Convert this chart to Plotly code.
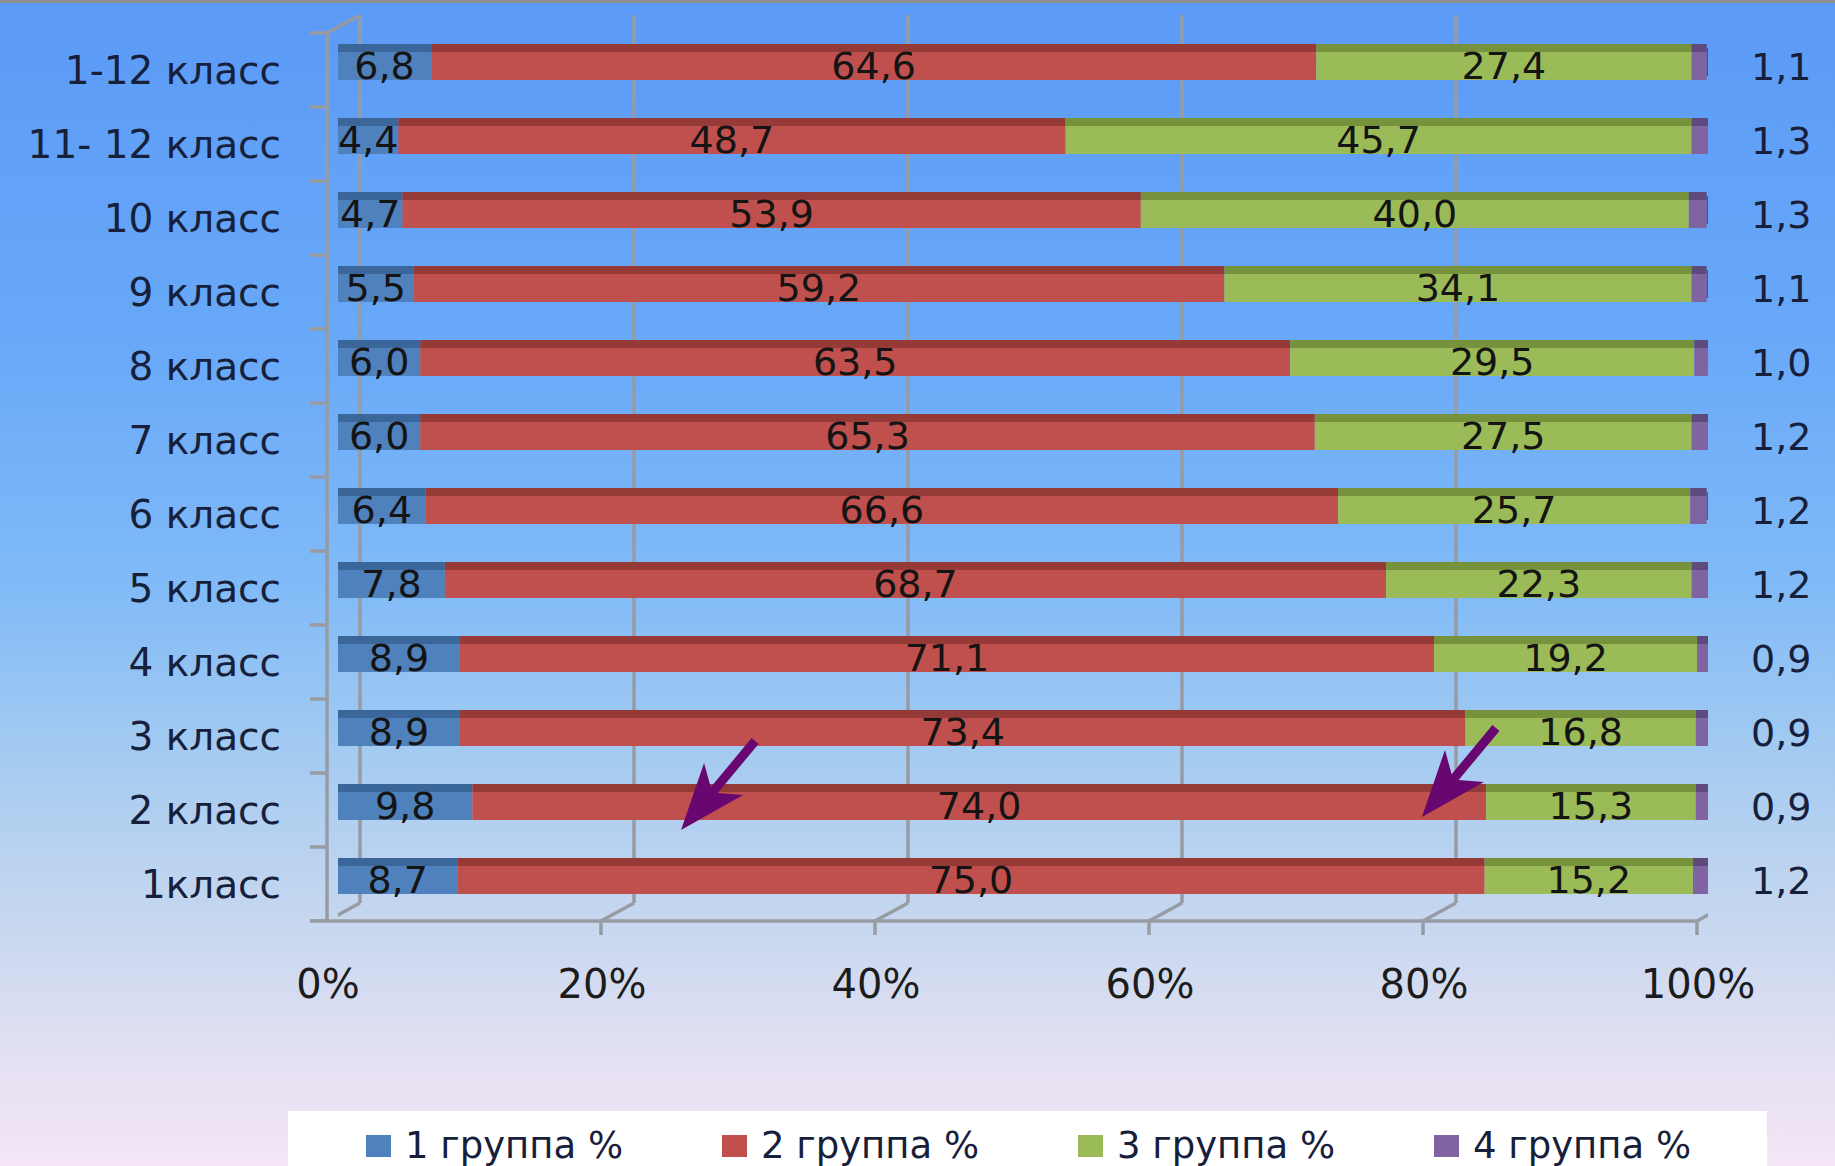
import base64
import plotly.graph_objects as go

# ---------------- data ----------------
categories = ["1-12 класс", "11- 12 класс", "10 класс", "9 класс", "8 класс", "7 класс",
              "6 класс", "5 класс", "4 класс", "3 класс", "2 класс", "1класс"]
group1 = [6.8, 4.4, 4.7, 5.5, 6.0, 6.0, 6.4, 7.8, 8.9, 8.9, 9.8, 8.7]
group2 = [64.6, 48.7, 53.9, 59.2, 63.5, 65.3, 66.6, 68.7, 71.1, 73.4, 74.0, 75.0]
group3 = [27.4, 45.7, 40.0, 34.1, 29.5, 27.5, 25.7, 22.3, 19.2, 16.8, 15.3, 15.2]
group4 = [1.1, 1.3, 1.3, 1.1, 1.0, 1.2, 1.2, 1.2, 0.9, 0.9, 0.9, 1.2]
series_names = ["1 группа %", "2 группа %", "3 группа %", "4 группа %"]
x_ticks = [0, 20, 40, 60, 80, 100]
x_tick_labels = ["0%", "20%", "40%", "60%", "80%", "100%"]
arrow_category = "2 класс"
arrow_tips = [25.04, 79.12]          # x position (%) the two arrows point at

# ---------------- styling ----------------
front_colors = ["#4f81bd", "#c0504d", "#9bbb59", "#8064a2"]
top_colors = ["#3b6699", "#963a37", "#76923c", "#5f4a7e"]
FONT = "DejaVu Sans"
TEXT_DARK = "#17203a"
FRAME = "#979ba3"

W, H = 1835, 1166
L, PW = 338, 1370
R = W - L - PW
T, PB = 15, 921
B = H - PB
PH = PB - T
ROW = 74.0
n = len(categories)


def fx(px):
    return (px - L) / PW


def fy(py):
    return (PB - py) / PH


def fmt(v):
    return f"{v:.1f}".replace(".", ",")


groups = [group1, group2, group3, group4]
bases = []
acc = [0.0] * n
for g in groups:
    bases.append(list(acc))
    acc = [a + v for a, v in zip(acc, g)]

fig = go.Figure()
face_off, face_w = -18 / ROW, 28 / ROW
top_off, top_w = -26 / ROW, 8 / ROW
for i, g in enumerate(groups):
    # top (3D) face
    fig.add_trace(go.Bar(
        y=categories, x=g, base=bases[i], orientation="h",
        offset=top_off, width=top_w, marker=dict(color=top_colors[i], line=dict(width=0)),
        showlegend=False, hoverinfo="skip", cliponaxis=False))
    # front face
    fig.add_trace(go.Bar(
        y=categories, x=g, base=bases[i], orientation="h", name=series_names[i],
        offset=face_off, width=face_w, marker=dict(color=front_colors[i], line=dict(width=0)),
        text=[fmt(v) for v in g] if i < 3 else None,
        textposition="inside" if i < 3 else "none",
        insidetextanchor="middle", textangle=0, constraintext="none",
        textfont=dict(family=FONT, size=38, color="#141414"),
        showlegend=False, cliponaxis=False))

# side face of the last (purple) segment
fig.add_trace(go.Bar(
    y=categories, x=[0.9] * n, base=acc, orientation="h",
    offset=-22 / ROW, width=28 / ROW, marker=dict(color=top_colors[3], line=dict(width=0)),
    showlegend=False, hoverinfo="skip", cliponaxis=False))

shapes = []
# border at top
shapes.append(dict(type="rect", xref="paper", yref="paper", x0=fx(0), x1=fx(W), y0=fy(0), y1=fy(3),
                   fillcolor="#8e8e8e", line=dict(width=0), layer="above"))
line = dict(color=FRAME, width=3.5)
for t in x_ticks:
    shapes.append(dict(type="line", xref="x", xsizemode="pixel", xanchor=t, x0=22, x1=22,
                       yref="paper", y0=18 / PH, y1=1, line=line, layer="below"))
    shapes.append(dict(type="line", xref="x", xsizemode="pixel", xanchor=t, x0=-11, x1=22,
                       yref="paper", ysizemode="pixel", yanchor=0, y0=0, y1=18, line=line, layer="below"))
    shapes.append(dict(type="line", xref="x", xsizemode="pixel", xanchor=t, x0=-11, x1=-11,
                       yref="paper", ysizemode="pixel", yanchor=0, y0=0, y1=-14, line=line, layer="below"))
shapes.append(dict(type="line", xref="paper", xsizemode="pixel", xanchor=0, x0=-28, x1=PW - 11,
                   yref="paper", y0=0, y1=0, line=line, layer="below"))
shapes.append(dict(type="line", xref="paper", xsizemode="pixel", xanchor=0, x0=-11, x1=-11,
                   yref="y", y0=-0.5, y1=n - 0.5, line=line, layer="below"))
shapes.append(dict(type="line", xref="paper", xsizemode="pixel", xanchor=0, x0=-11, x1=22,
                   yref="y", ysizemode="pixel", yanchor=-0.5, y0=0, y1=18, line=line, layer="below"))
for k in range(n + 1):
    shapes.append(dict(type="line", xref="paper", xsizemode="pixel", xanchor=0, x0=-28, x1=-11,
                       yref="y", y0=k - 0.5, y1=k - 0.5, line=line, layer="below"))

# legend box + entries (manual)
shapes.append(dict(type="rect", xref="paper", yref="paper", x0=fx(288), x1=fx(1767), y0=fy(1175), y1=fy(1111),
                   fillcolor="white", line=dict(width=0), layer="below"))
annotations = []
for i, name in enumerate(series_names):
    x0 = 366 + 356 * i
    shapes.append(dict(type="rect", xref="paper", yref="paper", x0=fx(x0), x1=fx(x0 + 25),
                       y0=fy(1157), y1=fy(1135), fillcolor=front_colors[i], line=dict(width=0)))
    annotations.append(dict(xref="paper", yref="paper", x=fx(x0 + 37), y=fy(1145), xanchor="left",
                            yanchor="middle", text=name, showarrow=False,
                            font=dict(family=FONT, size=37, color=TEXT_DARK)))

# group 4 value labels (outside right)
for c, v in zip(categories, group4):
    annotations.append(dict(xref="paper", x=1, xshift=73, yref="y", y=c, yshift=3, text=fmt(v),
                            showarrow=False, xanchor="center", yanchor="middle",
                            font=dict(family=FONT, size=38, color=TEXT_DARK)))

# purple arrows (filled barbed arrow outline, pixel offsets from the tip; screen y downward)
arrow_outline = [(0, 0), (23, -67), (29.7, -42.8), (70.5, -91.9), (77.5, -86.1), (36.7, -37), (62, -35)]
arrow_row = categories.index(arrow_category)
for xt, tip_dy in zip(arrow_tips, [20, 7]):
    pts = [(px, -(py + tip_dy)) for px, py in arrow_outline]
    path = "M" + " L".join(f"{px:.1f},{py:.1f}" for px, py in pts) + " Z"
    shapes.append(dict(type="path", xref="x", yref="y", xsizemode="pixel", ysizemode="pixel",
                       xanchor=xt, yanchor=arrow_row, path=path, fillcolor="#690771",
                       line=dict(width=0), layer="above"))

# gradient background as svg image
stops = [(0, "#5b9af6"), (0.3, "#69a9f8"), (0.5, "#80baf7"), (0.65, "#a5cbf1"),
         (0.8, "#c9d8ef"), (0.92, "#e6e1f3"), (1, "#f4e6f6")]
stop_xml = "".join(f'<stop offset="{o}" stop-color="{c}"/>' for o, c in stops)
svg = (f'<svg xmlns="http://www.w3.org/2000/svg" width="{W}" height="{H}" preserveAspectRatio="none">'
       f'<defs><linearGradient id="g" x1="0" y1="0" x2="0" y2="1">{stop_xml}</linearGradient></defs>'
       f'<rect width="{W}" height="{H}" fill="url(#g)"/></svg>')
src = "data:image/svg+xml;base64," + base64.b64encode(svg.encode()).decode()

fig.update_layout(
    width=W, height=H,
    margin=dict(l=L, r=R, t=T, b=B, pad=0),
    barmode="overlay",
    paper_bgcolor="#a6c8f2", plot_bgcolor="rgba(0,0,0,0)",
    showlegend=False,
    separators=", ",
    shapes=shapes, annotations=annotations,
    images=[dict(source=src, xref="paper", yref="paper", x=fx(0), y=fy(0), sizex=W / PW, sizey=H / PH,
                 xanchor="left", yanchor="top", sizing="stretch", layer="below")],
    xaxis=dict(range=[0, 100], tickvals=x_ticks, ticktext=x_tick_labels, showgrid=False,
               zeroline=False, showline=False, ticks="", ticklabelstandoff=36, ticklabelshift=-10,
               tickfont=dict(family=FONT, size=40, color="#1c1c1c"), fixedrange=True),
    yaxis=dict(type="category", categoryorder="array", categoryarray=categories,
               range=[n - 0.5, -0.5 - 18 / ROW], showgrid=False, zeroline=False, showline=False,
               ticks="", ticklabelstandoff=56, tickfont=dict(family=FONT, size=39, color=TEXT_DARK),
               fixedrange=True),
)

fig.write_html("out.html", config={"displayModeBar": False},
               post_script="document.body.style.margin='0';")
